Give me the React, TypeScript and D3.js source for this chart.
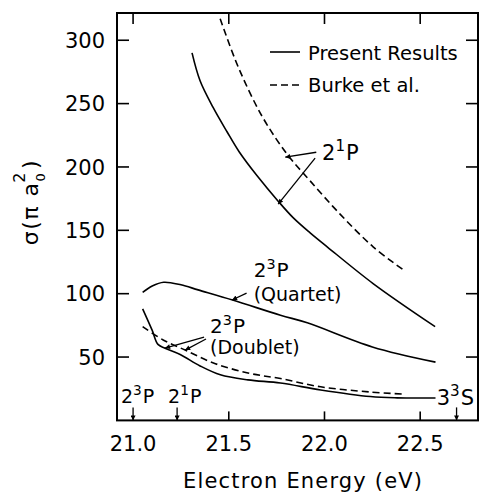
import React from 'react';
import * as d3 from 'd3';

// Data (Electron energy in eV, cross section in units of pi a0^2)
const xTicks = [21.0, 21.5, 22.0, 22.5];
const yTicks = [50, 100, 150, 200, 250, 300];

const p21E = [21.308, 21.35, 21.418, 21.49, 21.554, 21.648, 21.758, 21.836, 21.925, 22.014, 22.254, 22.578];
const p21V = [290, 268, 247, 228, 212, 193, 173, 160, 148, 137, 108, 74];

const b21E = [21.455, 21.549, 21.674, 21.805, 21.925, 22.08, 22.254, 22.41];
const b21V = [317, 279, 240, 210, 189, 163, 137, 119];

const quartetE = [21.05, 21.1, 21.16, 21.25, 21.34, 21.52, 21.77, 21.91, 22.25, 22.58];
const quartetV = [101, 106, 109, 107, 103, 95, 83, 77, 58, 46];

const doubletE = [21.05, 21.1, 21.13, 21.167, 21.246, 21.35, 21.456, 21.6, 21.77, 21.98, 22.24, 22.38, 22.58];
const doubletV = [88, 71, 60, 57, 52, 43, 36, 32, 29.5, 24, 18.8, 17.8, 17.7];

const burkeDoubletE = [21.05, 21.157, 21.272, 21.42, 21.6, 21.77, 21.98, 22.24, 22.41];
const burkeDoubletV = [74, 63.5, 55.5, 45.3, 37.4, 33, 26.5, 22.4, 20.8];

// Threshold energies (arrows at bottom)
const thresholdE = [21.0, 21.23, 22.69];

// Annotation arrows [fromE, fromV, toE, toV]
const annArrows: number[][] = [
  [21.957, 211.6, 21.795, 207.7],
  [21.951, 207, 21.758, 170.7],
  [21.593, 100.5, 21.517, 95],
  [21.371, 65.8, 21.167, 57.1],
  [21.381, 64.2, 21.272, 55.5],
];

type Lbl = { e: number; v: number; a: string; s: string; b: string; size: number };
const supLabels: Lbl[] = [
  { e: 21.987, v: 205.4, a: '2', s: '1', b: 'P', size: 21 },
  { e: 21.63, v: 113, a: '2', s: '3', b: 'P', size: 20 },
  { e: 21.402, v: 68.6, a: '2', s: '3', b: 'P', size: 20 },
  { e: 22.586, v: 12.1, a: '3', s: '3', b: 'S', size: 21 },
  { e: 20.937, v: 13.7, a: '2', s: '3', b: 'P', size: 19 },
  { e: 21.183, v: 13.7, a: '2', s: '1', b: 'P', size: 19 },
];
const plainLabels = [
  { e: 21.63, v: 94.5, t: '(Quartet)' },
  { e: 21.402, v: 52.3, t: '(Doublet)' },
];

const zip = (a: number[], b: number[]) => a.map((d, i) => [d, b[i]] as [number, number]);

export default function App() {
  const W = 479, H = 496;
  const x = d3.scaleLinear().domain([20.916, 22.802]).range([117, 478]);
  const y = d3.scaleLinear().domain([0, 321.5]).range([420.4, 13]);
  const line = d3.line<[number, number]>().x(d => x(d[0])).y(d => y(d[1])).curve(d3.curveCatmullRom.alpha(0.5));
  const font = '"DejaVu Sans", sans-serif';
  const x0 = x.range()[0], x1 = x.range()[1];
  const yb = y(0), yt = y.range()[1];
  const sw = 1.6;

  return (
    <svg width={W} height={H} style={{ position: 'absolute', left: 0, top: 0, background: '#fff' }} fontFamily={font}>
      <defs>
        <marker id="ah" viewBox="0 0 10 10" refX="10" refY="5" markerWidth="7" markerHeight="5" markerUnits="userSpaceOnUse" orient="auto">
          <path d="M0,0 L10,5 L0,10 z" fill="#000" />
        </marker>
      </defs>
      {/* frame */}
      <rect x={x0} y={yt} width={x1 - x0} height={yb - yt} fill="none" stroke="#000" strokeWidth={2} />
      {/* ticks */}
      {yTicks.map(t => (
        <g key={'y' + t}>
          <line x1={x0} x2={x0 + 12} y1={y(t)} y2={y(t)} stroke="#000" strokeWidth={1.6} />
          <line x1={x1} x2={x1 - 12} y1={y(t)} y2={y(t)} stroke="#000" strokeWidth={1.6} />
          <text x={x0 - 12} y={y(t)} dy="0.36em" textAnchor="end" fontSize={21}>{t}</text>
        </g>
      ))}
      {xTicks.map(t => (
        <g key={'x' + t}>
          <line x1={x(t)} x2={x(t)} y1={yt} y2={yt + 11} stroke="#000" strokeWidth={1.6} />
          {t > 21.0 && <line x1={x(t)} x2={x(t)} y1={yb} y2={yb - 9} stroke="#000" strokeWidth={1.6} />}
          <text x={x(t)} y={yb + 31} textAnchor="middle" fontSize={21}>{t.toFixed(1)}</text>
        </g>
      ))}
      {/* curves */}
      <path d={line(zip(p21E, p21V)) || ''} fill="none" stroke="#000" strokeWidth={sw} />
      <path d={line(zip(b21E, b21V)) || ''} fill="none" stroke="#000" strokeWidth={sw} strokeDasharray="7 4" />
      <path d={line(zip(quartetE, quartetV)) || ''} fill="none" stroke="#000" strokeWidth={sw} />
      <path d={line(zip(doubletE, doubletV)) || ''} fill="none" stroke="#000" strokeWidth={sw} />
      <path d={line(zip(burkeDoubletE, burkeDoubletV)) || ''} fill="none" stroke="#000" strokeWidth={sw} strokeDasharray="7 4" />
      {/* annotation arrows */}
      {annArrows.map((a, i) => (
        <line key={'a' + i} x1={x(a[0])} y1={y(a[1])} x2={x(a[2])} y2={y(a[3])} stroke="#000" strokeWidth={1.3} markerEnd="url(#ah)" />
      ))}
      {/* threshold arrows */}
      {thresholdE.map((e, i) => (
        <line key={'t' + i} x1={x(e)} x2={x(e)} y1={yb - 13} y2={yb} stroke="#000" strokeWidth={1.3} markerEnd="url(#ah)" />
      ))}
      {/* labels */}
      {supLabels.map((l, i) => (
        <text key={'l' + i} x={x(l.e)} y={y(l.v)} fontSize={l.size}>
          {l.a}
          <tspan dy={-l.size * 0.42} fontSize={l.size * 0.72}>{l.s}</tspan>
          <tspan dy={l.size * 0.42} dx={1}>{l.b}</tspan>
        </text>
      ))}
      {plainLabels.map((l, i) => (
        <text key={'p' + i} x={x(l.e)} y={y(l.v)} fontSize={19}>{l.t}</text>
      ))}
      {/* legend */}
      <line x1={270} x2={300} y1={52} y2={52} stroke="#000" strokeWidth={sw} />
      <text x={308} y={60} fontSize={19.5}>Present Results</text>
      <line x1={270} x2={300} y1={85} y2={85} stroke="#000" strokeWidth={sw} strokeDasharray="7 4" />
      <text x={308} y={92} fontSize={19.5}>Burke et al.</text>
      {/* axis titles */}
      <text x={302.5} y={488} textAnchor="middle" fontSize={21} textLength={239} lengthAdjust="spacing">Electron Energy (eV)</text>
      <text transform="translate(38,202) rotate(-90)" textAnchor="middle" fontSize={22} letterSpacing={1.5}>
        σ(π a<tspan dy={7} fontSize={13}>0</tspan><tspan dx={-11} dy={-20} fontSize={16}>2</tspan><tspan dy={13} dx={2}>)</tspan>
      </text>
    </svg>
  );
}
